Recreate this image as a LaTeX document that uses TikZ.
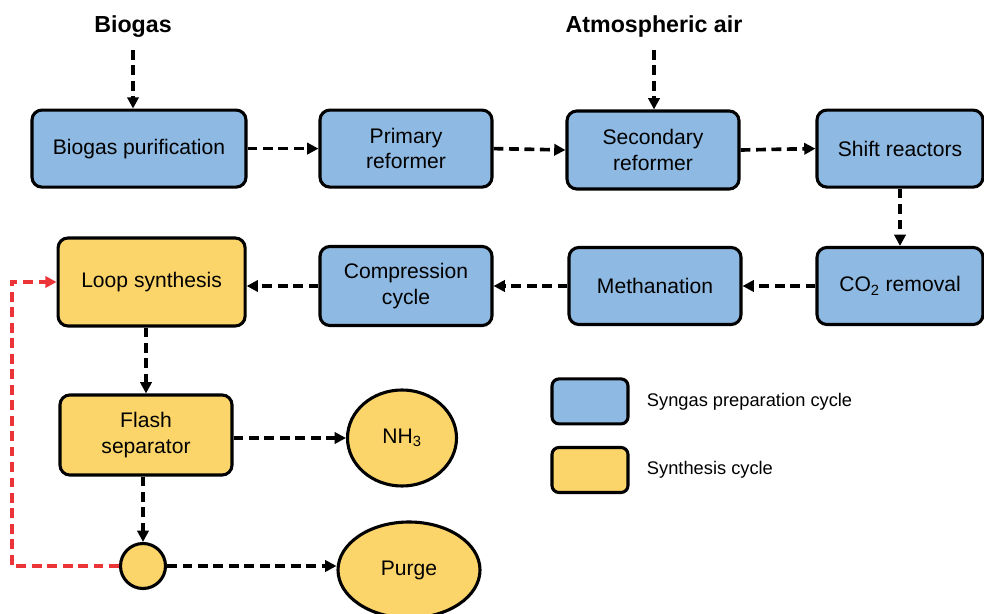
\documentclass[tikz,border=0pt]{standalone}
\usepackage{fontspec}
\setmainfont{Liberation Sans}
\usetikzlibrary{arrows.meta,shapes.geometric}
\definecolor{synblue}{RGB}{142,185,226}
\definecolor{synyellow}{RGB}{252,213,106}
\definecolor{loopred}{RGB}{235,52,56}
\begin{document}
\begin{tikzpicture}[
		unit/.style = {draw, line width=2.2pt, rounded corners=7pt, align=center,
			font=\fontsize{15}{18}\selectfont, inner sep=0pt},
		prep/.style = {unit, fill=synblue},
		synth/.style = {unit, fill=synyellow},
		pool/.style = {draw, line width=2.2pt, ellipse, fill=synyellow, inner sep=0pt,
			font=\fontsize{15}{18}\selectfont},
		flow/.style = {line width=2.6pt, dash pattern=on 7pt off 4pt,
			-{Triangle[length=8pt,width=8pt]}},
		title/.style = {font=\fontsize{16.5}{19}\selectfont\bfseries}
	]
		\useasboundingbox (0,0) rectangle (24.6,15.325);
		
		\node[title] (biogas) at (3.325,14.65) {Biogas};
		\node[title] (air) at (16.35,14.65) {Atmospheric air};
		\coordinate (biogasin) at (3.325,14.075);
		\coordinate (airin) at (16.35,14.075);
		
		% syngas preparation
		\node[prep, minimum width=5.35cm, minimum height=1.925cm] (purif) at (3.475,11.61)
			{Biogas purification};
		\node[prep, minimum width=4.3cm, minimum height=1.925cm] (primary) at (10.15,11.61)
			{Primary\\reformer};
		\node[prep, minimum width=4.3cm, minimum height=1.95cm] (secondary) at (16.325,11.575)
			{Secondary\\reformer};
		\node[prep, minimum width=4.15cm, minimum height=1.925cm] (shift) at (22.5,11.61)
			{Shift reactors};
		\node[prep, minimum width=4.15cm, minimum height=1.925cm] (removal) at (22.5,8.175)
			{CO\textsubscript{2} removal};
		\node[prep, minimum width=4.3cm, minimum height=1.925cm] (methan) at (16.375,8.175)
			{Methanation};
		\node[prep, minimum width=4.3cm, minimum height=1.975cm] (compress) at (10.15,8.175)
			{Compression\\cycle};
		
		% synthesis
		\node[synth, minimum width=4.675cm, minimum height=2.2cm] (loop) at (3.79,8.275)
			{Loop synthesis};
		\node[synth, minimum width=4.3cm, minimum height=2cm] (flash) at (3.65,4.45)
			{Flash\\separator};
		\node[pool, minimum width=2.725cm, minimum height=2.4cm] (ammonia) at (10.05,4.375)
			{NH\textsubscript{3}};
		\node[pool, circle, minimum size=1.125cm] (split) at (3.575,1.175) {};
		\node[pool, minimum width=3.55cm, minimum height=2.4cm] (purge) at (10.225,1.075)
			{Purge};
		\coordinate (recycle) at (0.3,1.175);
		
		% legend
		\node[prep, rounded corners=5pt, minimum width=1.9cm, minimum height=1.125cm] (keyprep)
			at (14.75,5.29) {};
		\node[synth, rounded corners=5pt, minimum width=1.9cm, minimum height=1.125cm] (keysynth)
			at (14.75,3.575) {};
		\node[anchor=west, font=\fontsize{13}{15}\selectfont] (keyprepl) at (16.05,5.29)
			{Syngas preparation cycle};
		\node[anchor=west, font=\fontsize{13}{15}\selectfont] (keysynthl) at (16.05,3.575)
			{Synthesis cycle};
		
		\draw[flow] (biogasin) -- (biogasin |- purif.north);
		\draw[flow] (airin) -- (airin |- secondary.north);
		\draw[flow] (purif.east) -- (primary.west);
		\draw[flow] (primary.east) -- (secondary.west);
		\draw[flow] (secondary.east) -- (shift.west);
		\draw[flow] (shift.south) -- (removal.north);
		\draw[flow] (removal.west) -- (methan.east);
		\draw[flow] (methan.west) -- (compress.east);
		\draw[flow] (compress.west) -- (compress.west -| loop.east);
		\draw[flow] (flash.north |- loop.south) -- (flash.north);
		\draw[flow] (flash.east |- ammonia.west) -- (ammonia.west);
		\draw[flow] (split.north |- flash.south) -- (split.north);
		\draw[flow] (split.east) -- (purge.west |- split.east);
		\draw[flow, loopred] (split.west) -- (recycle) |- (loop.west);
	\end{tikzpicture}
\end{document}
